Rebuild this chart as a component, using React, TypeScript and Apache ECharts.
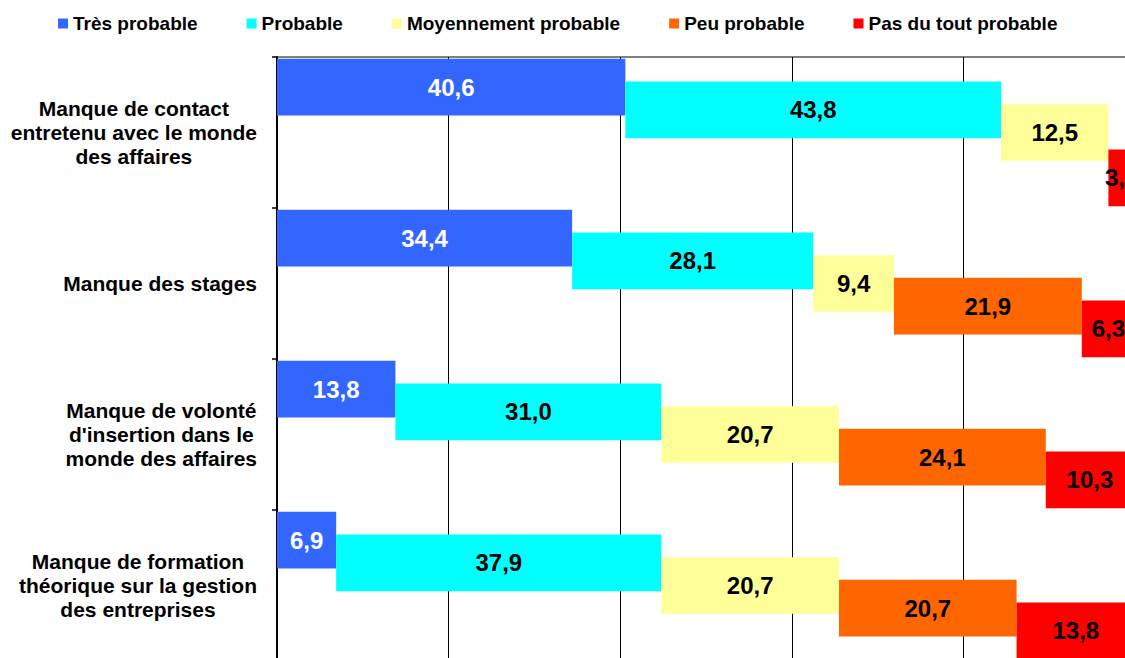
import React, { useEffect, useRef } from 'react';
import * as echarts from 'echarts';

const categories = [
  'Manque de contact\nentretenu avec le monde\ndes affaires',
  'Manque des stages',
  "Manque de volonté\nd'insertion dans le\nmonde des affaires",
  'Manque de formation\nthéorique sur la gestion\ndes entreprises',
];
const seriesNames = ['Très probable', 'Probable', 'Moyennement probable', 'Peu probable', 'Pas du tout probable'];
const tresProbable = [40.6, 34.4, 13.8, 6.9];
const probable = [43.8, 28.1, 31.0, 37.9];
const moyennementProbable = [12.5, 9.4, 20.7, 20.7];
const peuProbable = [0, 21.9, 24.1, 20.7];
const pasDuToutProbable = [3.1, 6.3, 10.3, 13.8];
const colors = ['#3366FF', '#00FFFF', '#FFFF99', '#FF6600', '#FF0000'];
const labelColors = ['#FFFFFF', '#000000', '#000000', '#000000', '#000000'];
const xMin = 0;
const xMax = 100;
const xInterval = 20;

const FONT = "'Liberation Sans', Arial, sans-serif";

export default function App() {
  const ref = useRef<HTMLDivElement>(null);
  useEffect(() => {
    if (!ref.current) return;
    const chart = echarts.init(ref.current, undefined, { renderer: 'svg' });
    const values = [tresProbable, probable, moyennementProbable, peuProbable, pasDuToutProbable];
    const series: any[] = [];
    values.forEach((vals, i) => {
      const base = categories.map((_, c) => values.slice(0, i).reduce((s, arr) => s + arr[c], 0));
      series.push({
        type: 'bar',
        name: '_base' + i,
        stack: 's' + i,
        data: base,
        barWidth: 56.7,
        barGap: '-60%',
        silent: true,
        itemStyle: { color: 'transparent' },
        emphasis: { disabled: true },
        label: { show: false },
      });
      series.push({
        type: 'bar',
        name: seriesNames[i],
        stack: 's' + i,
        data: vals,
        barWidth: 56.7,
        barGap: '-60%',
        itemStyle: { color: colors[i] },
        label: {
          show: true,
          position: 'inside',
          color: labelColors[i],
          fontFamily: FONT,
          fontWeight: 'bold',
          fontSize: 24,
          formatter: (p: any) => (p.value === 0 ? '' : Number(p.value).toFixed(1).replace('.', ',')),
        },
      });
    });
    chart.setOption({
      animation: false,
      backgroundColor: '#FFFFFF',
      legend: {
        data: seriesNames,
        left: 53,
        top: 9,
        icon: 'rect',
        itemWidth: 10,
        itemHeight: 10,
        itemGap: 49,
        selectedMode: false,
        textStyle: { fontFamily: FONT, fontWeight: 'bold', fontSize: 19, color: '#000' },
      },
      grid: {
        left: 277,
        right: 25,
        top: 57,
        bottom: 39,
        show: true,
        borderColor: '#000',
        borderWidth: 1,
        containLabel: false,
      },
      xAxis: {
        type: 'value',
        min: xMin,
        max: xMax,
        interval: xInterval,
        axisLabel: { show: false },
        axisLine: { show: false },
        axisTick: { show: false },
        splitLine: { show: true, lineStyle: { color: '#000', width: 1 } },
      },
      yAxis: {
        type: 'category',
        data: categories,
        inverse: true,
        axisLine: { show: true, lineStyle: { color: '#000', width: 2 } },
        axisTick: { show: true, length: 5, lineStyle: { color: '#000', width: 1.5 } },
        axisLabel: {
          margin: 20,
          align: 'right',
          formatter: (v: string) => v.split('\n').map((l) => `{c|${l}}`).join('\n'),
          rich: {
            c: { align: 'center', fontFamily: FONT, fontWeight: 'bold', fontSize: 21, lineHeight: 24, color: '#000' },
          },
        },
      },
      series,
    });
    return () => chart.dispose();
  }, []);
  return (
    <div style={{ position: 'absolute', left: 0, top: 0, width: 1125, height: 658, overflow: 'hidden', background: '#fff' }}>
      <div ref={ref} style={{ width: 1160, height: 700 }} />
    </div>
  );
}
